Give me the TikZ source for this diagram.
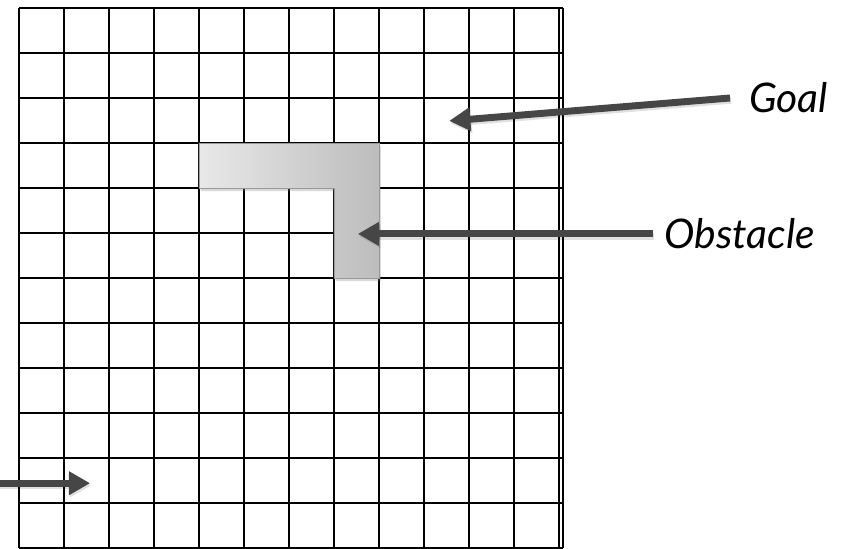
\documentclass[tikz,border=0pt]{standalone}
\usepackage{fontspec}
\setmainfont{Lato}
\usetikzlibrary{arrows.meta,shadows}
\definecolor{arrowgray}{RGB}{70,70,70}
\tikzset{
  cell/.style={line width=1.1pt,black},
  pointer/.style={-{Triangle[length=4.7mm,width=5mm]},line width=4.4pt,arrowgray},
  pointershade/.style={pointer,black,opacity=0.12,transform canvas={xshift=0.8pt,yshift=-1.4pt}},
  callout/.style={anchor=west,inner ysep=0pt}
}

\begin{document}
\begin{tikzpicture}[x=1cm,y=1cm,font=\fontsize{25.8}{30}\selectfont\itshape]
\useasboundingbox (-0.422,0.0) rectangle (18.40,12.178);
% grid of cells
\foreach \i in {0,...,12}{
  \draw[cell] (\i,0) -- (\i,12);
  \draw[cell] (0,\i) -- (12.09,\i);
}
\draw[cell] (12.09,0) -- (12.09,12);
% L-shaped obstacle
\fill[left color=gray!18,right color=gray!52,draw=gray!80,line width=0.6pt,
  drop shadow={shadow xshift=0.04,shadow yshift=-0.07,opacity=0.3}]
  (4,9) -- (8,9) -- (8,6) -- (7,6) -- (7,8) -- (4,8) -- cycle;
% targets of the pointers
\coordinate (goalcell) at (9.56,9.49);
\coordinate (obstcell) at (7.53,6.98);
\coordinate (starttail) at (-0.6,1.44);
\coordinate (startcell) at (1.58,1.44);
% labels
\node[callout,inner xsep=0.42cm] (goal) at (15.8,10.0) {Goal};
\node[callout,inner xsep=0.25cm] (obst) at (14.09,6.98) {Obstacle};
% pointers
\draw[pointershade] (goal.west) -- (goalcell);
\draw[pointershade] (obst.west) -- (obstcell);
\draw[pointershade] (starttail) -- (startcell);
\draw[pointer] (goal.west) -- (goalcell);
\draw[pointer] (obst.west) -- (obstcell);
\draw[pointer] (starttail) -- (startcell);
\end{tikzpicture}
\end{document}
